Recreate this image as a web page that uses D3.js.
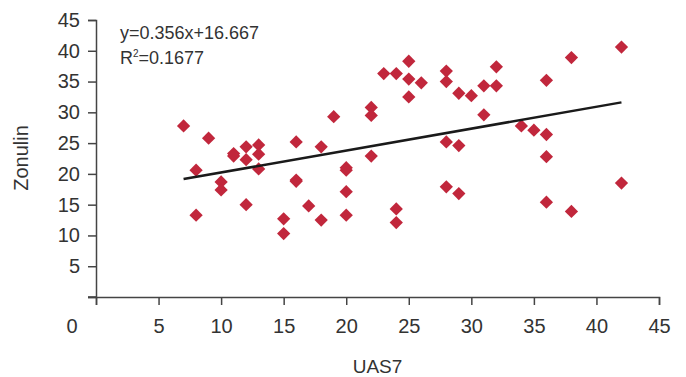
<!DOCTYPE html>
<html>
<head>
<meta charset="utf-8">
<script src="https://cdn.jsdelivr.net/npm/d3@7"></script>
<style>
  body { margin: 0; background: #fff; }
  text { font-family: "Liberation Sans", Arial, sans-serif; fill: #333; }
</style>
</head>
<body>
<div id="chart"></div>
<script>
const uas7 = [7, 8, 8, 9, 10, 10, 11, 11, 12, 12, 12, 13, 13, 13, 15, 15, 16, 16, 16, 17, 18, 18, 19,
              20, 20, 20, 20, 22, 22, 22, 23, 24, 24, 24, 25, 25, 25, 26, 28, 28, 28, 28, 29, 29, 29,
              30, 31, 31, 32, 32, 34, 35, 36, 36, 36, 36, 38, 38, 42, 42];
const zonulin = [27.8, 20.6, 13.3, 25.8, 18.7, 17.4, 23.3, 22.9, 24.4, 22.3, 15.0, 24.7, 23.2, 20.8, 12.7, 10.3, 25.2, 19.0, 18.8, 14.8, 24.4, 12.5, 29.3,
                 21.0, 20.6, 17.1, 13.3, 30.8, 29.5, 22.9, 36.3, 36.3, 14.3, 12.1, 38.3, 35.4, 32.5, 34.8, 36.7, 35.0, 25.2, 17.9, 33.1, 24.6, 16.8,
                 32.7, 34.3, 29.6, 37.4, 34.3, 27.8, 27.1, 35.2, 26.4, 22.8, 15.4, 38.9, 13.9, 40.6, 18.5];
const xTicks = [0, 5, 10, 15, 20, 25, 30, 35, 40, 45];
const yTicks = [0, 5, 10, 15, 20, 25, 30, 35, 40, 45];
const slope = 0.356;
const intercept = 16.667;
const rSquared = '0.1677';
const trendRange = [7, 42];

const margin = {'top':20,'right':27,'bottom':80,'left':96};
const width = 686 - margin.left - margin.right;
const height = 377 - margin.top - margin.bottom;
var svg;
var xAxis;
var yAxis;

function setup(){
  svg = d3.select('#chart')
          .append('svg')
          .attr('width', width + margin.left + margin.right)
          .attr('height', height + margin.top + margin.bottom)
          .append('g')
          .attr('transform', `translate(${margin.left},${margin.top})`)
}

function setScales(){
  xAxis = d3.scaleLinear().domain([0,45]).range([0,width])
  yAxis = d3.scaleLinear().domain([0,45]).range([height,0])

  svg.append('g')
     .call(d3.axisLeft(yAxis)
             .tickValues(yTicks)
             .tickSize(8)
             .tickPadding(8)
             .tickFormat(d => d === 0 ? '' : d))
  let gx = svg.append('g')
     .attr('transform', `translate(0,${height})`)
     .call(d3.axisBottom(xAxis)
             .tickValues(xTicks)
             .tickSize(8)
             .tickPadding(14)
             .tickFormat(d => d === 0 ? '' : d))
  // the x-axis "0" sits left of the origin in the original
  gx.append('text')
    .attr('x', xAxis(0) - 24)
    .attr('y', 22)
    .attr('dy', '0.71em')
    .attr('text-anchor', 'middle')
    .text(xTicks[0])

  svg.selectAll('.domain').attr('stroke', '#444').attr('stroke-width', 1.5)
  svg.selectAll('.tick line').attr('stroke', '#444').attr('stroke-width', 1.5)
  svg.selectAll('.tick text, g > text').style('font-size', '20px').attr('fill', '#333')
  // x axis line reaches past the y axis to its 0 tick
  svg.append('line')
     .attr('x1', -8).attr('x2', 0)
     .attr('y1', height).attr('y2', height)
     .attr('stroke', '#444').attr('stroke-width', 1.5)
}

function makePoints(){
  const diamond = d3.symbol().type(d3.symbolSquare).size(88)
  svg.selectAll('.pt')
     .data(uas7.map((x, i) => ({x: x, y: zonulin[i]})))
     .enter().append('path')
     .attr('class', 'pt')
     .attr('d', diamond)
     .attr('transform', d => `translate(${xAxis(d.x)},${yAxis(d.y)}) rotate(45)`)
     .attr('fill', '#c1273c')

  svg.append('line')
     .attr('x1', xAxis(trendRange[0]))
     .attr('y1', yAxis(slope * trendRange[0] + intercept))
     .attr('x2', xAxis(trendRange[1]))
     .attr('y2', yAxis(slope * trendRange[1] + intercept))
     .attr('stroke', '#1a1a1a')
     .attr('stroke-width', 2.5)
}

function setAxisLables(){
  svg.append('text')
     .attr('transform', 'rotate(-90)')
     .attr('x', 0 - 138)
     .attr('y', 0 - 68)
     .style('text-anchor', 'middle')
     .style('font-size', '20px')
     .text('Zonulin');

  svg.append('text')
     .attr('x', xAxis(22.5))
     .attr('y', height + 76)
     .style('text-anchor', 'middle')
     .style('font-size', '19px')
     .text('UAS7');

  svg.append('text')
     .attr('x', 24)
     .attr('y', 19)
     .style('font-size', '18px')
     .text(`y=${slope}x+${intercept}`);

  let r = svg.append('text')
     .attr('x', 24)
     .attr('y', 44)
     .style('font-size', '18px')
  r.append('tspan').text('R')
  r.append('tspan').attr('dy', -7).style('font-size', '10px').text('2')
  r.append('tspan').attr('dy', 7).text(`=${rSquared}`)
}

setup();
setScales();
makePoints();
setAxisLables();
</script>
</body>
</html>
